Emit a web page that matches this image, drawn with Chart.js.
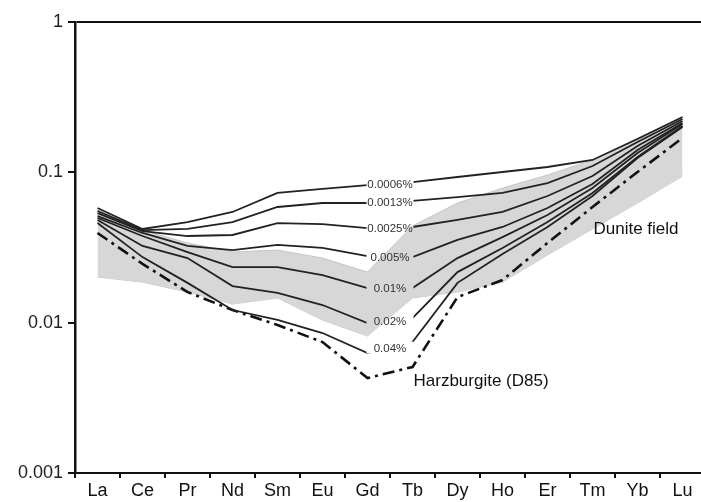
<!DOCTYPE html>
<html>
<head>
<meta charset="utf-8">
<script src="https://cdn.jsdelivr.net/npm/chart.js@4.4.1/dist/chart.umd.min.js"></script>
<style>
  html, body { margin: 0; padding: 0; background: #fff; overflow: hidden; }
  #wrap { width: 705px; height: 502px; }
</style>
</head>
<body>
<div id="wrap"><canvas id="reeChart" width="705" height="502"></canvas></div>
<script>
const elements = ['La', 'Ce', 'Pr', 'Nd', 'Sm', 'Eu', 'Gd', 'Tb', 'Dy', 'Ho', 'Er', 'Tm', 'Yb', 'Lu'];
const yTicks = [0.001, 0.01, 0.1, 1];

const melt0006 = [0.0579, 0.0420, 0.0467, 0.0545, 0.0729, 0.0775, 0.0823, 0.0862, 0.0931, 0.1005, 0.1085, 0.1208, 0.1666, 0.2334];
const melt0013 = [0.0553, 0.0413, 0.0420, 0.0467, 0.0588, 0.0625, 0.0625, 0.0645, 0.0685, 0.0729, 0.0849, 0.1102, 0.1590, 0.2263];
const melt0025 = [0.0536, 0.0407, 0.0377, 0.0383, 0.0460, 0.0453, 0.0426, 0.0433, 0.0482, 0.0545, 0.0696, 0.0945, 0.1497, 0.2196];
const melt005 = [0.0512, 0.0395, 0.0324, 0.0304, 0.0329, 0.0314, 0.0277, 0.0273, 0.0355, 0.0433, 0.0579, 0.0836, 0.1408, 0.2129];
const melt01 = [0.0497, 0.0377, 0.0295, 0.0234, 0.0234, 0.0207, 0.0170, 0.0170, 0.0269, 0.0371, 0.0520, 0.0786, 0.1345, 0.2097];
const melt02 = [0.0482, 0.0324, 0.0269, 0.0175, 0.0158, 0.0131, 0.00995, 0.0107, 0.0217, 0.0314, 0.0467, 0.0729, 0.1265, 0.2033];
const melt04 = [0.0460, 0.0273, 0.0184, 0.01214, 0.01042, 0.00853, 0.00628, 0.00743, 0.0184, 0.0286, 0.0433, 0.0696, 0.1245, 0.2002];
const harzburgite = [0.0395, 0.0246, 0.0160, 0.01214, 0.00965, 0.00743, 0.00428, 0.00507, 0.0148, 0.0192, 0.0339, 0.0588, 0.1005, 0.1692];
const duniteTop = [0.0562, 0.0413, 0.0339, 0.0295, 0.0304, 0.0269, 0.0217, 0.0440, 0.0625, 0.0786, 0.0960, 0.1208, 0.1692, 0.2334];
const duniteBottom = [0.0201, 0.0186, 0.0160, 0.0133, 0.0146, 0.0104, 0.00815, 0.0146, 0.0160, 0.0186, 0.0282, 0.0420, 0.0625, 0.0945];

const meltLabels = ['0.0006%', '0.0013%', '0.0025%', '0.005%', '0.01%', '0.02%', '0.04%'];
const meltSeries = [melt0006, melt0013, melt0025, melt005, melt01, melt02, melt04];

// label boxes sit on the Gd-Tb segment, the line is cut out under them
function labelBox(chart, i) {
  const x = chart.scales.x;
  const y = chart.scales.y;
  const x1 = x.getPixelForValue(6) - 1;
  const x2 = x.getPixelForValue(7) + 1;
  const s = meltSeries[i];
  const yc = (y.getPixelForValue(s[6]) + y.getPixelForValue(s[7])) / 2;
  return { x1: x1, x2: x2, yc: yc };
}

const labelPlugin = {
  id: 'meltLabels',
  beforeDatasetDraw(chart, args) {
    const ds = chart.data.datasets[args.index];
    if (ds.meltIndex === undefined) return;
    const ctx = chart.ctx;
    ctx.save();
    ctx.beginPath();
    ctx.rect(0, 0, chart.width, chart.height);
    meltSeries.forEach((s, i) => {
      const b = labelBox(chart, i);
      ctx.rect(b.x1, b.yc - 6, b.x2 - b.x1, 12);
    });
    ctx.clip('evenodd');
  },
  afterDatasetDraw(chart, args) {
    const ds = chart.data.datasets[args.index];
    if (ds.meltIndex === undefined) return;
    chart.ctx.restore();
  },
  afterDatasetsDraw(chart) {
    const ctx = chart.ctx;
    const x = chart.scales.x;
    const y = chart.scales.y;
    ctx.save();
    ctx.fillStyle = '#333';
    ctx.font = '11.5px "Liberation Sans", Arial, sans-serif';
    ctx.textAlign = 'center';
    ctx.textBaseline = 'middle';
    meltLabels.forEach((txt, i) => {
      const b = labelBox(chart, i);
      ctx.fillText(txt, (b.x1 + b.x2) / 2, b.yc + 1);
    });
    ctx.fillStyle = '#111';
    ctx.font = '17px "Liberation Sans", Arial, sans-serif';
    ctx.textAlign = 'left';
    ctx.fillText('Harzburgite (D85)', x.getPixelForValue(7) + 1, y.getPixelForValue(0.0041));
    ctx.fillText('Dunite field', x.getPixelForValue(11) + 1, y.getPixelForValue(0.042));
    ctx.restore();
  }
};

const datasets = meltSeries.map((s, i) => ({
  label: meltLabels[i],
  data: s,
  meltIndex: i,
  borderColor: '#222',
  borderWidth: 1.8,
  pointRadius: 0,
  fill: false,
  order: 1
}));

datasets.push({
  label: 'Harzburgite (D85)',
  data: harzburgite,
  borderColor: '#111',
  borderWidth: 2.6,
  borderDash: [12, 5, 3, 5],
  pointRadius: 0,
  fill: false,
  order: 2
});
datasets.push({
  label: 'Dunite field',
  data: duniteTop,
  borderColor: '#c6c6c6',
  borderWidth: 1,
  backgroundColor: '#d7d7d7',
  pointRadius: 0,
  fill: '+1',
  order: 5
});
datasets.push({
  label: 'Dunite low',
  data: duniteBottom,
  borderColor: '#c6c6c6',
  borderWidth: 1,
  pointRadius: 0,
  fill: false,
  order: 5
});

const axisFont = { family: '"Liberation Sans", Arial, sans-serif', size: 18 };

new Chart(document.getElementById('reeChart').getContext('2d'), {
  type: 'line',
  data: { labels: elements, datasets: datasets },
  plugins: [labelPlugin],
  options: {
    responsive: false,
    animation: false,
    layout: { padding: { top: 22, right: 0, left: 0, bottom: 0 } },
    elements: { line: { tension: 0 } },
    plugins: { legend: { display: false }, tooltip: { enabled: false } },
    scales: {
      x: {
        offset: true,
        grid: { offset: true, drawOnChartArea: false, drawTicks: true, tickLength: 5, tickColor: '#111', lineWidth: 2 },
        border: { display: true, color: '#111', width: 2 },
        ticks: { color: '#111', font: axisFont, padding: 2, maxRotation: 0, autoSkip: false },
        afterFit: function(scale) { scale.height = 29; }
      },
      y: {
        type: 'logarithmic',
        min: 0.001,
        max: 1,
        afterBuildTicks: function(scale) { scale.ticks = yTicks.map(v => ({ value: v })); },
        grid: {
          color: ctx => (ctx.tick && ctx.tick.value === 1 ? '#111' : 'rgba(0,0,0,0)'),
          tickColor: '#111',
          lineWidth: 2,
          tickLength: 7
        },
        border: { display: true, color: '#111', width: 2.5 },
        ticks: {
          color: '#222',
          font: axisFont,
          padding: 5,
          callback: function(v) { return String(v); }
        },
        afterFit: function(scale) { scale.width = 75; }
      }
    }
  }
});
</script>
</body>
</html>
